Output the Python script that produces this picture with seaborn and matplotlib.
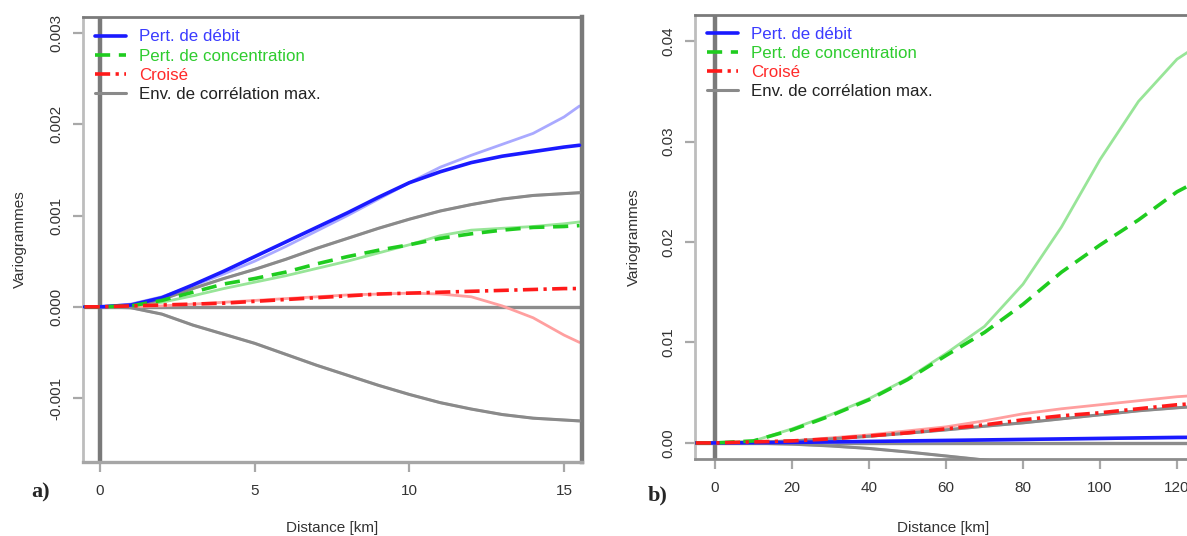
import matplotlib
matplotlib.use("Agg")
import matplotlib.pyplot as plt
import seaborn as sns
import pandas as pd

# ---------------- data: panel a) ----------------
x_a = [-0.5, 0, 1, 2, 3, 4, 5, 6, 7, 8, 9, 10, 11, 12, 13, 14, 15, 15.5]
debit_a = [0, 0, 0.00002, 0.0001, 0.00024, 0.00039, 0.00055, 0.00071, 0.00087, 0.00103,
           0.0012, 0.00136, 0.00148, 0.00158, 0.00165, 0.0017, 0.00175, 0.00177]
debit_a_emp = [0, 0, 0.00003, 0.00011, 0.00023, 0.00036, 0.0005, 0.00066, 0.00083, 0.001,
               0.00118, 0.00136, 0.00153, 0.00166, 0.00178, 0.0019, 0.00208, 0.0022]
conc_a = [0, 0, 0.00001, 0.00007, 0.00016, 0.00025, 0.00031, 0.00038, 0.00047, 0.00055,
          0.00062, 0.00068, 0.00075, 0.0008, 0.00084, 0.00087, 0.00088, 0.00089]
conc_a_emp = [0, 0, 0.00001, 0.00005, 0.00012, 0.0002, 0.00027, 0.00034, 0.00042, 0.0005,
              0.00059, 0.00068, 0.00078, 0.00084, 0.00086, 0.00088, 0.00091, 0.00093]
cross_a = [0, 0, 0.00001, 0.00002, 0.00003, 0.00004, 0.00006, 0.00008, 0.0001, 0.00012,
           0.00014, 0.00015, 0.00016, 0.00017, 0.00018, 0.00019, 0.0002, 0.0002]
cross_a_emp = [0, 0, 0, 0.00001, 0.00003, 0.00005, 0.00007, 0.00009, 0.00011, 0.00013,
               0.00014, 0.00015, 0.00014, 0.00011, 0.00001, -0.00012, -0.00031, -0.00039]
env_up_a = [0, 0, 0.00001, 0.00008, 0.0002, 0.00031, 0.00041, 0.00052, 0.00064, 0.00075,
            0.00086, 0.00096, 0.00105, 0.00112, 0.00118, 0.00122, 0.00124, 0.00125]
env_lo_a = [0, 0, -0.00001, -0.00008, -0.0002, -0.0003, -0.0004, -0.00052, -0.00064, -0.00075,
            -0.00086, -0.00096, -0.00105, -0.00112, -0.00118, -0.00122, -0.00124, -0.00125]

# ---------------- data: panel b) ----------------
x_b = [-5, 0, 10, 20, 30, 40, 50, 60, 70, 80, 90, 100, 110, 120, 124]
debit_b = [0, 0, 0.00002, 0.00005, 0.0001, 0.00015, 0.0002, 0.00025, 0.0003, 0.00035,
           0.0004, 0.00045, 0.0005, 0.00055, 0.00056]
debit_b_emp = [0, 0, 0.00001, 0.00003, 0.00007, 0.00011, 0.00016, 0.0002, 0.00025, 0.0003,
               0.00036, 0.00041, 0.00046, 0.0005, 0.00051]
conc_b = [0, 0, 0.0002, 0.0013, 0.0027, 0.0043, 0.0063, 0.0087, 0.011, 0.0138,
          0.017, 0.0197, 0.0222, 0.025, 0.0258]
conc_b_emp = [0, 0, 0.0002, 0.0014, 0.0028, 0.0044, 0.0064, 0.0089, 0.0116, 0.0158,
              0.0215, 0.0282, 0.034, 0.0382, 0.0392]
cross_b = [0, 0, 0.0001, 0.0002, 0.0004, 0.0007, 0.001, 0.0014, 0.0018, 0.0023,
           0.0027, 0.003, 0.0034, 0.0038, 0.0039]
cross_b_emp = [0, 0, 0.0001, 0.0002, 0.0005, 0.0008, 0.0012, 0.0016, 0.0022, 0.0029,
               0.0034, 0.0038, 0.0042, 0.0046, 0.0047]
env_up_b = [0, 0, 0.00004, 0.0002, 0.0004, 0.00066, 0.00097, 0.0013, 0.00166, 0.002,
            0.0024, 0.0028, 0.0032, 0.0035, 0.0036]
env_lo_b = [0, 0, -0.00002, -0.00012, -0.0003, -0.00055, -0.0009, -0.0013, -0.0017, -0.002,
            -0.0024, -0.0028, -0.0032, -0.0035, -0.0036]

labels = ["Pert. de débit", "Pert. de concentration", "Croisé", "Env. de corrélation max."]
yticks_a = [-0.001, 0.0, 0.001, 0.002, 0.003]
yticklabels_a = ["-0.001", "0.000", "0.001", "0.002", "0.003"]
xticks_a = [0, 5, 10, 15]
yticks_b = [0.0, 0.01, 0.02, 0.03, 0.04]
yticklabels_b = ["0.00", "0.01", "0.02", "0.03", "0.04"]
xticks_b = [0, 20, 40, 60, 80, 100, 120]

# ---------------- style ----------------
sns.set_style("white")
plt.rcParams["font.family"] = ["Liberation Sans", "DejaVu Sans"]

BLUE, GREEN, RED, GRAY = "#1a1aff", "#1fcc1f", "#ff1a1a", "#8a8a8a"
LBLUE, LGREEN, LRED, LGRAY = "#a9a9ff", "#98e598", "#ff9f9f", "#c4c4c4"
TXT = {"blue": "#3b3bff", "green": "#2ecc2e", "red": "#ff2a2a", "gray": "#222222"}

W, H = 1187, 536
fig = plt.figure(figsize=(W / 100, H / 100), dpi=100)
ax1 = fig.add_axes([83 / W, 1 - 462 / H, 499 / W, 445 / H])
ax2 = fig.add_axes([695 / W, 1 - 459 / H, 497 / W, 444 / H])


def panel(ax, x, deb, deb_e, con, con_e, cro, cro_e, eup, elo, leg_y):
    df = pd.DataFrame({"x": x, "deb": deb, "deb_e": deb_e, "con": con, "con_e": con_e,
                       "cro": cro, "cro_e": cro_e, "eup": eup, "elo": elo})
    ax.axvline(0, color="#7a7a7a", lw=3.2, zorder=1)
    ax.axhline(0, color="#8c8c8c", lw=2.4, zorder=1)
    # empirical (thin, light)
    for col, c in [("eup", LGRAY), ("elo", LGRAY), ("deb_e", LBLUE),
                   ("con_e", LGREEN), ("cro_e", LRED)]:
        sns.lineplot(data=df, x="x", y=col, ax=ax, color=c, lw=2.0, zorder=2,
                     label="_nolegend_")
    # models (thick)
    sns.lineplot(data=df, x="x", y="eup", ax=ax, color=GRAY, lw=2.2, zorder=3, label=labels[3])
    sns.lineplot(data=df, x="x", y="elo", ax=ax, color=GRAY, lw=2.2, zorder=3, label="_nolegend_")
    sns.lineplot(data=df, x="x", y="deb", ax=ax, color=BLUE, lw=2.6, zorder=4, label=labels[0])
    sns.lineplot(data=df, x="x", y="con", ax=ax, color=GREEN, lw=2.6, zorder=4, label=labels[1])
    ax.lines[-1].set_dashes([4.2, 2.4])
    sns.lineplot(data=df, x="x", y="cro", ax=ax, color=RED, lw=2.6, zorder=4, label=labels[2])
    ax.lines[-1].set_dashes([4.2, 1.5, 0.9, 1.5])
    handles, labs = ax.get_legend_handles_labels()
    hmap = dict(zip(labs, handles))
    leg = ax.legend([hmap[l] for l in labels], labels, loc="upper left",
                    bbox_to_anchor=(0.024, leg_y), frameon=False, fontsize=12.2,
                    handlelength=1.85, handletextpad=0.75, labelspacing=0.24,
                    borderpad=0, borderaxespad=0)
    for t, c in zip(leg.get_texts(), ["blue", "green", "red", "gray"]):
        t.set_color(TXT[c])
    ax.set_xlabel("Distance [km]", fontsize=11, color="#333333")
    ax.set_ylabel("Variogrammes", fontsize=11, color="#333333")
    ax.tick_params(axis="both", direction="out", length=7, width=1.6, color="#a8a8a8",
                   labelsize=11, labelcolor="#333333", bottom=True, left=True)
    ax.tick_params(axis="y", pad=7)
    ax.tick_params(axis="x", pad=9)
    for s in ax.spines.values():
        s.set_visible(True)


panel(ax1, x_a, debit_a, debit_a_emp, conc_a, conc_a_emp, cross_a, cross_a_emp,
      env_up_a, env_lo_a, 0.972)
panel(ax2, x_b, debit_b, debit_b_emp, conc_b, conc_b_emp, cross_b, cross_b_emp,
      env_up_b, env_lo_b, 0.973)

ax1.set_xlim(-0.55, 15.58)
ax1.set_ylim(-0.0017, 0.003175)
ax1.set_xticks(xticks_a)
ax1.set_xticklabels([str(v) for v in xticks_a])
ax1.set_yticks(yticks_a)
ax1.set_yticklabels(yticklabels_a, rotation=90, va="center")

ax2.set_xlim(-5.19, 123.9)
ax2.set_ylim(-0.0016, 0.0426)
ax2.set_xticks(xticks_b)
ax2.set_xticklabels([str(v) for v in xticks_b])
ax2.set_yticks(yticks_b)
ax2.set_yticklabels(yticklabels_b, rotation=90, va="center")

# spines
ax1.spines["top"].set(color="#7a7a7a", lw=2.0)
ax1.spines["right"].set(color="#7a7a7a", lw=3.2)
ax1.spines["left"].set(color="#bdbdbd", lw=2.0)
ax1.spines["bottom"].set(color="#a6a6a6", lw=2.4)
ax2.spines["top"].set(color="#7a7a7a", lw=2.0)
ax2.spines["right"].set(color="#7a7a7a", lw=2.0)
ax2.spines["left"].set(color="#bdbdbd", lw=2.0)
ax2.spines["bottom"].set(color="#8c8c8c", lw=2.0)

# axis label positions (axes coordinates)
for ax, ylab_x, xlab_y in [(ax1, (20 - 83) / 499, (462 - 528) / 445),
                           (ax2, (634 - 695) / 497, (459 - 528) / 444)]:
    ax.xaxis.set_label_coords(0.5, xlab_y)
    ax.xaxis.label.set_va("center")
    ax.yaxis.set_label_coords(ylab_x, 0.5)
    ax.yaxis.label.set_va("center")

fig.text(41 / W, 1 - 492 / H, "a)", fontsize=16, fontweight="bold",
         family=["Liberation Serif", "DejaVu Serif"], ha="center", va="center")
fig.text(658 / W, 1 - 495 / H, "b)", fontsize=16, fontweight="bold",
         family=["Liberation Serif", "DejaVu Serif"], ha="center", va="center")

fig.savefig("out.png", dpi=100)
